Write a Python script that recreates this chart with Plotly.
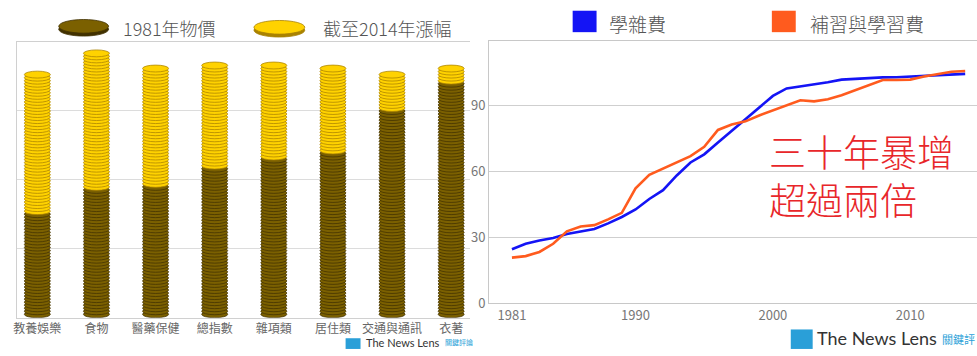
import plotly.graph_objects as go

# ---- Left panel: price level 1981 vs rise up to 2014, by CPI category ----
categories = ["教養娛樂", "食物", "醫藥保健", "總指數", "雜項類", "居住類", "交通與通訊", "衣著"]
price_1981 = [45.0, 55.5, 56.5, 65.0, 68.0, 71.0, 90.0, 102.0]
rise_to_2014 = [62.5, 61.0, 53.0, 46.0, 43.0, 39.5, 17.0, 8.5]

# ---- Right panel: tuition vs. tutoring / learning expenses index ----
years = list(range(1981, 2015))
tuition = [24.5, 27.0, 28.5, 29.6, 31.5, 32.7, 33.7, 36.3, 39.2, 42.6,
           47.4, 51.4, 58.1, 64.0, 67.7, 73.1, 78.5, 83.9, 89.1, 94.3,
           97.7, 98.6, 99.4, 100.5, 101.7, 102.1, 102.4, 102.7, 102.8, 103.1,
           103.4, 103.7, 104.0, 104.3]
tutoring = [20.7, 21.4, 23.3, 27.0, 32.7, 34.9, 35.5, 38.1, 41.1, 52.2,
            58.4, 61.3, 64.3, 66.9, 71.1, 78.8, 81.3, 82.7, 85.4, 87.6,
            89.8, 92.3, 91.8, 92.8, 94.6, 96.8, 99.1, 101.5, 101.5, 101.7,
            103.1, 104.3, 105.3, 105.6]
tick_years = [1981, 1990, 2000, 2010]
y_ticks = [0, 30, 60, 90]

W, H = 977, 356
FONT = "Noto Sans CJK TC, Noto Sans, sans-serif"

DARK_FILL, DARK_EDGE = "#7b6000", "#413100"
GOLD_FILL, GOLD_EDGE = "#ffd200", "#a98200"
BLUE, ORANGE = "#1414f5", "#ff5b1e"


def px(x):
    return x / W


def py(y):
    return 1 - y / H


fig = go.Figure()

# anchor trace so the left axes are drawn
fig.add_trace(go.Scatter(
    x=list(range(len(categories))), y=[0] * len(categories),
    xaxis="x", yaxis="y", mode="markers", marker=dict(opacity=0),
    hoverinfo="skip", showlegend=False))

fig.add_trace(go.Scatter(
    x=years, y=tuition, xaxis="x2", yaxis="y2", mode="lines",
    line=dict(color=BLUE, width=2.6), name="學雜費", showlegend=False))
fig.add_trace(go.Scatter(
    x=years, y=tutoring, xaxis="x2", yaxis="y2", mode="lines",
    line=dict(color=ORANGE, width=2.6), name="補習與學習費", showlegend=False))

# ---- coin stacks: one ellipse per coin, drawn bottom-up so each covers the one below ----
COIN_RX = 0.22
COIN_RY = 1.5
COIN_STEP = 1.32
shapes = []
for i, (base, rise) in enumerate(zip(price_1981, rise_to_2014)):
    n_dark = round(base / COIN_STEP)
    n_total = round((base + rise - 2 * COIN_RY) / COIN_STEP) + 1
    for k in range(n_total):
        cy = COIN_RY + k * COIN_STEP
        dark = k < n_dark
        shapes.append(dict(
            type="circle", xref="x", yref="y",
            x0=i - COIN_RX, x1=i + COIN_RX, y0=cy - COIN_RY, y1=cy + COIN_RY,
            fillcolor=DARK_FILL if dark else GOLD_FILL,
            line=dict(color=DARK_EDGE if dark else GOLD_EDGE, width=0.75),
            layer="above"))


def legend_coin(x0, x1, ytop, fill, edge):
    out = []
    for off, f in ((3, edge), (0, fill)):
        out.append(dict(type="circle", xref="paper", yref="paper",
                        x0=px(x0), x1=px(x1), y0=py(ytop + off + 14), y1=py(ytop + off),
                        fillcolor=f, line=dict(color=edge, width=0.8)))
    return out


shapes += legend_coin(55, 105, 20, DARK_FILL, DARK_EDGE)
shapes += legend_coin(251, 302, 21, GOLD_FILL, GOLD_EDGE)

# right legend squares
for x0, col in ((571, BLUE), (771, ORANGE)):
    shapes.append(dict(type="rect", xref="paper", yref="paper",
                       x0=px(x0), x1=px(x0 + 24), y0=py(33), y1=py(11),
                       fillcolor=col, line=dict(width=0)))

# watermark logo squares
for x0, x1, y0, y1 in ((343, 358, 347, 358), (790, 812, 338, 358)):
    shapes.append(dict(type="rect", xref="paper", yref="paper",
                       x0=px(x0), x1=px(x1), y0=py(y1), y1=py(y0),
                       fillcolor="#2a9fd8", line=dict(width=0)))

annotations = [
    dict(text="1981年物價", x=px(117), y=py(29), xanchor="left", yanchor="middle",
         font=dict(size=18, color="#555555", family=FONT, weight=300)),
    dict(text="截至2014年漲幅", x=px(318), y=py(29), xanchor="left", yanchor="middle",
         font=dict(size=18, color="#555555", family=FONT, weight=300)),
    dict(text="學雜費", x=px(605), y=py(24), xanchor="left", yanchor="middle",
         font=dict(size=19, color="#555555", family=FONT, weight=300)),
    dict(text="補習與學習費", x=px(807), y=py(24), xanchor="left", yanchor="middle",
         font=dict(size=19, color="#555555", family=FONT, weight=300)),
    dict(text="三十年暴增<br>超過兩倍", x=px(766), y=py(180), xanchor="left",
         yanchor="middle", align="left",
         font=dict(size=37, color="#e8262a", family=FONT, weight=300)),
    dict(text="The News Lens", x=px(361), y=py(351), xanchor="left", yanchor="middle",
         font=dict(size=11, color="#333333", family="Lato, sans-serif")),
    dict(text="關鍵評論", x=px(441), y=py(351), xanchor="left", yanchor="middle",
         font=dict(size=7, color="#2a9fd8", family=FONT)),
    dict(text="The News Lens", x=px(814), y=py(347), xanchor="left", yanchor="middle",
         font=dict(size=18, color="#333333", family="Lato, sans-serif")),
    dict(text="關鍵評", x=px(940), y=py(348), xanchor="left", yanchor="middle",
         font=dict(size=11, color="#2a9fd8", family=FONT)),
]
for a in annotations:
    a.update(xref="paper", yref="paper", showarrow=False)

fig.update_layout(
    width=W, height=H,
    margin=dict(l=0, r=0, t=0, b=0),
    paper_bgcolor="white", plot_bgcolor="white",
    showlegend=False,
    shapes=shapes,
    annotations=annotations,
    xaxis=dict(
        domain=[px(13), px(468)], range=[-0.345, 7.32],
        tickvals=list(range(len(categories))), ticktext=categories,
        tickfont=dict(size=12, color="#666666", family=FONT),
        showgrid=False, zeroline=False, ticks="",
        showline=True, linecolor="#d0d0d0", linewidth=1, mirror=True,
        fixedrange=True),
    yaxis=dict(
        domain=[py(326), py(43)], range=[0, 120], dtick=30,
        showticklabels=False, showgrid=True, gridcolor="#dcdcdc",
        zeroline=False, showline=True, linecolor="#d0d0d0", linewidth=1,
        ticks="", fixedrange=True),
    xaxis2=dict(
        domain=[px(487), 1.0], range=[1979.33, 2014.86], anchor="y2",
        tickvals=tick_years,
        tickfont=dict(size=13, color="#777777", family=FONT),
        showgrid=False, zeroline=False, ticks="",
        showline=True, linecolor="#c8c8c8", linewidth=1, mirror=True),
    yaxis2=dict(
        domain=[py(311), py(42)], range=[0, 119.3], anchor="x2",
        tickvals=y_ticks,
        tickfont=dict(size=13, color="#777777", family=FONT),
        showgrid=True, gridcolor="#cfcfcf", gridwidth=1,
        zeroline=False, showline=True, linecolor="#c8c8c8", linewidth=1,
        ticks=""),
)

fig.write_html("out.html")
